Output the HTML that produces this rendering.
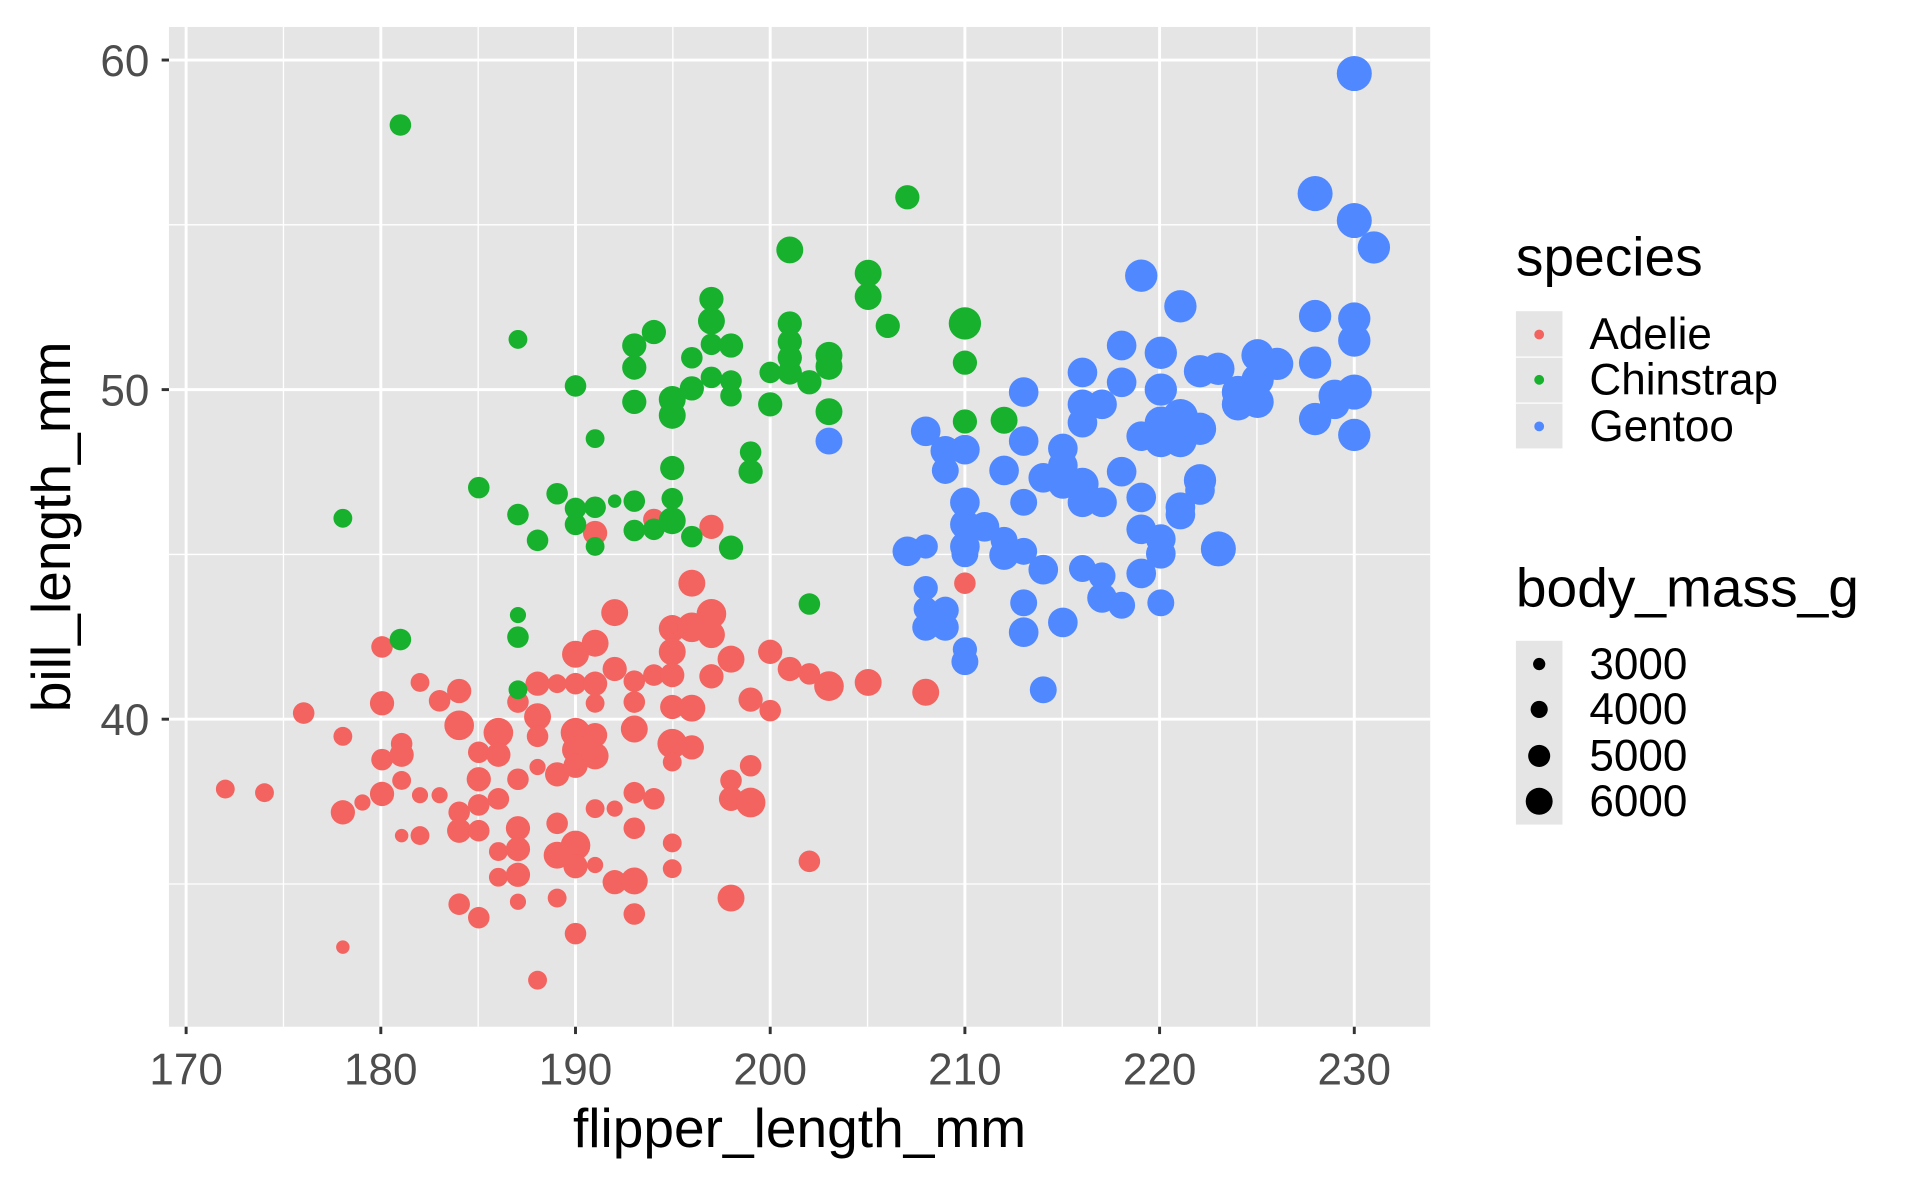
<!DOCTYPE html>
<html><head><style>html,body{margin:0;padding:0;background:#fff}svg{display:block}</style></head>
<body>
<svg width="1920" height="1186" viewBox="0 0 1568 968" preserveAspectRatio="none" xmlns="http://www.w3.org/2000/svg" font-family="Liberation Sans, Arial, sans-serif">
<rect x="138" y="22" width="1030" height="816" fill="#E5E5E5"/>
<g stroke="#fff" stroke-width="1.1">
<line x1="231.5" y1="22" x2="231.5" y2="838"/><line x1="390.5" y1="22" x2="390.5" y2="838"/><line x1="549.5" y1="22" x2="549.5" y2="838"/><line x1="708.5" y1="22" x2="708.5" y2="838"/><line x1="867.5" y1="22" x2="867.5" y2="838"/><line x1="1026.5" y1="22" x2="1026.5" y2="838"/>
<line x1="138" y1="183.5" x2="1168" y2="183.5"/><line x1="138" y1="452.5" x2="1168" y2="452.5"/><line x1="138" y1="721.5" x2="1168" y2="721.5"/>
</g>
<g stroke="#fff" stroke-width="2.4">
<line x1="152" y1="22" x2="152" y2="838"/><line x1="311" y1="22" x2="311" y2="838"/><line x1="470" y1="22" x2="470" y2="838"/><line x1="629" y1="22" x2="629" y2="838"/><line x1="788" y1="22" x2="788" y2="838"/><line x1="947" y1="22" x2="947" y2="838"/><line x1="1106" y1="22" x2="1106" y2="838"/>
<line x1="138" y1="49" x2="1168" y2="49"/><line x1="138" y1="318" x2="1168" y2="318"/><line x1="138" y1="587" x2="1168" y2="587"/>
</g>
<g stroke="#333" stroke-width="2.4">
<line x1="132" y1="49" x2="138" y2="49"/><line x1="132" y1="318" x2="138" y2="318"/><line x1="132" y1="587" x2="138" y2="587"/>
<line x1="152" y1="838" x2="152" y2="844"/><line x1="311" y1="838" x2="311" y2="844"/><line x1="470" y1="838" x2="470" y2="844"/><line x1="629" y1="838" x2="629" y2="844"/><line x1="788" y1="838" x2="788" y2="844"/><line x1="947" y1="838" x2="947" y2="844"/><line x1="1106" y1="838" x2="1106" y2="844"/>
</g>
<g fill="#4D4D4D" font-size="36">
<text x="122" y="62" text-anchor="end">60</text><text x="122" y="331" text-anchor="end">50</text><text x="122" y="600" text-anchor="end">40</text>
<g text-anchor="middle"><text x="152" y="885">170</text><text x="311" y="885">180</text><text x="470" y="885">190</text><text x="629" y="885">200</text><text x="788" y="885">210</text><text x="947" y="885">220</text><text x="1106" y="885">230</text></g>
</g>
<text x="653" y="936" text-anchor="middle" font-size="45">flipper_length_mm</text>
<text transform="translate(57,430) rotate(-90)" text-anchor="middle" font-size="45">bill_length_mm</text>
<g id="pts"></g>
<text x="1238" y="225" font-size="45">species</text>
<rect x="1238" y="254" width="38" height="112" fill="#E5E5E5"/>
<line x1="1238" y1="291.5" x2="1276" y2="291.5" stroke="#fff" stroke-width="1"/><line x1="1238" y1="329" x2="1276" y2="329" stroke="#fff" stroke-width="1"/>
<circle cx="1257" cy="273" r="4" fill="#F3635F"/><circle cx="1257" cy="310" r="4" fill="#17B12E"/><circle cx="1257" cy="348" r="4" fill="#5088FF"/>
<g font-size="36"><text x="1298" y="285">Adelie</text><text x="1298" y="322">Chinstrap</text><text x="1298" y="360">Gentoo</text></g>
<text x="1238" y="495" font-size="45">body_mass_g</text>
<rect x="1238" y="523" width="38" height="150" fill="#E5E5E5"/>
<circle cx="1257" cy="542" r="5"/><circle cx="1257" cy="579" r="7"/><circle cx="1257" cy="617" r="9"/><circle cx="1257" cy="654" r="11"/>
<g font-size="36"><text x="1298" y="554">3000</text><text x="1298" y="591">4000</text><text x="1298" y="629">5000</text><text x="1298" y="666">6000</text></g>
</svg>
<script>
var A=[[184,644,7],[216,647,7],[248,582,8],[280,601,7],[280,663,9],[280,773,5],[296,655,6],[312,528,8],[312,574,9],[312,620,8],[312,648,9],[328,607,8],[328,616,9],[328,637,7],[328,682,5],[343,557,7],[343,682,7],[343,649,6],[359,572,8],[359,649,6],[375,564,9],[375,592,11],[375,663,8],[375,678,9],[375,738,8],[391,614,8],[391,636,9],[391,657,8],[391,678,8],[391,749,8],[407,598,11],[407,616,9],[407,652,8],[407,695,7],[407,716,7],[423,573,8],[423,676,9],[423,693,9],[423,714,9],[423,736,6],[423,636,8],[439,558,9],[439,585,10],[439,601,8],[439,626,6],[439,800,7],[455,558,7],[455,632,9],[455,672,8],[455,698,10],[455,733,7],[470,534,10],[470,558,8],[470,598,11],[470,612,10],[470,625,9],[470,690,11],[470,707,9],[470,762,8],[486,525,10],[486,558,9],[486,574,7],[486,600,9],[486,617,10],[486,660,7],[486,706,6],[486,435,9],[502,500,10],[502,546,9],[502,660,6],[502,720,9],[518,556,8],[518,573,8],[518,595,10],[518,647,8],[518,676,8],[518,719,10],[518,746,8],[534,424,8],[534,551,8],[534,652,8],[549,513,10],[549,532,10],[549,551,9],[549,577,9],[549,607,11],[549,622,7],[549,688,7],[549,709,7],[565,476,10],[565,512,11],[565,578,10],[565,610,9],[581,430,9],[581,501,11],[581,518,10],[581,552,9],[597,538,10],[597,637,8],[597,652,9],[597,733,10],[613,571,9],[613,625,8],[613,655,11],[629,532,9],[629,580,8],[645,546,9],[661,550,8],[661,703,8],[677,560,11],[709,557,10],[756,565,10],[788,476,8]];
var C=[[327,102,8],[280,423,7],[327,522,8],[391,398,8],[423,277,7],[423,420,8],[423,502,6],[423,520,8],[423,563,7],[439,441,8],[455,403,8],[470,315,8],[470,415,8],[470,428,8],[486,358,7],[486,414,8],[486,446,7],[502,409,5],[518,282,9],[518,300,9],[518,328,9],[518,409,8],[518,433,8],[534,271,9],[534,432,8],[549,326,10],[549,339,10],[549,382,9],[549,407,8],[549,425,10],[565,292,8],[565,317,9],[565,438,8],[581,244,9],[581,262,10],[581,281,8],[581,308,8],[597,282,9],[597,311,8],[597,323,8],[613,369,8],[613,385,9],[597,447,9],[629,304,8],[629,330,9],[645,204,10],[645,264,9],[645,279,9],[645,292,9],[645,304,9],[661,312,9],[677,290,10],[677,299,10],[677,336,10],[661,493,8],[709,223,10],[709,242,10],[725,266,9],[741,161,9],[788,264,12],[788,296,9],[788,344,9],[820,343,10]];
var G=[[677,360,10],[741,450,11],[756,352,11],[756,446,9],[756,480,9],[756,497,9],[756,512,10],[772,368,11],[772,384,10],[772,498,10],[772,512,10],[788,367,11],[788,410,11],[788,428,11],[788,446,11],[788,452,10],[788,530,9],[788,540,10],[804,430,11],[820,441,10],[820,453,11],[820,384,11],[836,320,11],[836,360,11],[836,410,10],[836,450,10],[836,492,10],[836,516,11],[852,390,11],[852,465,11],[852,563,10],[868,366,11],[868,380,11],[868,395,11],[868,508,11],[884,304,11],[884,330,11],[884,345,11],[884,395,12],[884,410,11],[884,464,10],[900,330,11],[900,410,11],[900,488,11],[900,470,10],[916,282,11],[916,312,11],[916,385,11],[916,494,10],[932,225,12],[932,356,11],[932,406,11],[932,432,11],[932,468,11],[948,288,12],[948,318,12],[948,345,12],[948,360,12],[948,440,11],[948,452,11],[948,492,10],[964,250,12],[964,340,13],[964,360,12],[964,414,11],[964,420,11],[980,303,12],[980,350,12],[980,392,12],[980,400,11],[995,301,12],[995,448,13],[1011,320,12],[1011,330,12],[1027,290,12],[1027,310,12],[1027,328,12],[1043,297,12],[1074,158,13],[1074,258,12],[1074,296,12],[1074,342,12],[1090,323,12],[1090,330,11],[1106,60,13],[1106,180,13],[1106,260,12],[1106,278,12],[1106,320,13],[1106,355,12],[1122,202,12]];
var g=document.getElementById('pts'),s='';
[[A,'#F3635F'],[C,'#17B12E'],[G,'#5088FF']].forEach(function(p){p[0].forEach(function(d){s+='<circle cx="'+d[0]+'" cy="'+d[1]+'" r="'+(d[2]*1.1)+'" fill="'+p[1]+'"/>';});});
g.innerHTML=s;
</script>
</body></html>
